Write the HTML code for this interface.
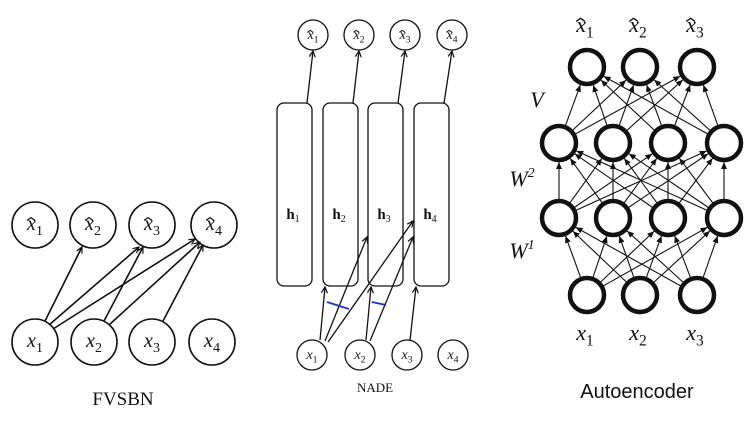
<!DOCTYPE html>
<html><head><meta charset="utf-8"><style>
html,body{margin:0;padding:0;background:#fff;}
svg{display:block}
</style></head><body>
<svg id="s" width="751" height="425" viewBox="0 0 751 425" xmlns="http://www.w3.org/2000/svg">
<defs>
<marker id="a" markerWidth="8" markerHeight="8" refX="7" refY="4" orient="auto" markerUnits="userSpaceOnUse"><path d="M1,1 L7,4 L1,7" fill="none" stroke="#111" stroke-width="1.2"/></marker>
<marker id="b" markerWidth="8" markerHeight="8" refX="7" refY="4" orient="auto" markerUnits="userSpaceOnUse"><path d="M0,1 L7,4 L0,7 Z" fill="#111"/></marker>
</defs>
<g id="fv" fill="none" stroke="#111" stroke-width="1.6"></g>
<g id="nade" fill="none" stroke="#111" stroke-width="1.3"></g>
<g id="ae" fill="none" stroke="#111"></g>
<g id="tx" font-family="Liberation Serif,serif" fill="#111" text-anchor="middle"></g>
<g id="hat" fill="none" stroke="#111"></g>
</svg>
<script>
const NS="http://www.w3.org/2000/svg";
function el(p,t,a,txt){const e=document.createElementNS(NS,t);for(const k in a)e.setAttribute(k,a[k]);if(txt!==undefined)e.innerHTML=txt;document.getElementById(p).appendChild(e);return e;}
function ln(p,x1,y1,x2,y2,m,w){const a={x1,y1,x2,y2};if(m)a['marker-end']='url(#'+m+')';if(w)a['stroke-width']=w;el(p,'line',a);}
function lab(x,y,base,sub,hat,s){
  let t=`<tspan font-style="italic" font-size="${s}">${base}</tspan><tspan font-size="${s*0.7}" dy="${s*0.25}">${sub}</tspan>`;
  el('tx','text',{x:x,y:y},t);
  if(hat){const cx=x-s*0.2, hy=y-s*0.62, w=s*0.2, h=s*0.14;
    el('hat','path',{d:`M${cx-w},${hy+h} L${cx},${hy} L${cx+w},${hy+h}`,'stroke-width':Math.max(1,s/16)});}
}
// FVSBN
const tx=[35,93,152,214], bx=[35,94,152,212];
tx.forEach((x,i)=>{el('fv','circle',{cx:x,cy:225,r:23});lab(x,230,'x',i+1,true,20);});
bx.forEach((x,i)=>{el('fv','circle',{cx:x,cy:342,r:23});lab(x,347,'x',i+1,false,20);});
ln('fv',45,321,82,247,'a');ln('fv',49,325,139,247,'a');ln('fv',53,329,195,239,'a');
ln('fv',104,321,143,247,'a');ln('fv',109,325,200,242,'a');ln('fv',163,321,203,245,'a');
el('tx','text',{x:123,y:405,'font-size':19},'FVSBN');
// NADE
const nx=[313,359,405,452], rx=[277,323,368,414];
nx.forEach((x,i)=>{el('nade','circle',{cx:x,cy:35,r:15});lab(x,39,'x',i+1,true,14);});
[312,360,407,453].forEach((x,i)=>{el('nade','circle',{cx:x,cy:355,r:15});lab(x,359,'x',i+1,false,14);});
rx.forEach((x,i)=>{el('nade','rect',{x:x,y:103,width:35,height:183,rx:7});
  el('tx','text',{x:x+16,y:219,'font-size':15,'font-weight':'bold'},`h<tspan font-size="10" font-weight="normal" dy="3">${i+1}</tspan>`);});
[307,353,398,444].forEach((p,i)=>ln('nade',p,103,nx[i],51,'a'));
ln('nade',320,340,325,287,'a');ln('nade',325,341,367,237,'a');ln('nade',328,342,413,221,'a');
ln('nade',366,340,371,287,'a');ln('nade',370,341,413,237,'a');ln('nade',410,340,416,287,'a');
el('nade','line',{x1:327,y1:302,x2:349,y2:309,stroke:'#2233bb','stroke-width':1.8});
el('nade','line',{x1:372,y1:302,x2:386,y2:305,stroke:'#2233bb','stroke-width':1.8});
el('tx','text',{x:375,y:392,'font-size':13},'NADE');
// Autoencoder
const L0=[587,640,697].map(x=>[x,295]),L1=[559,613,668,724].map(x=>[x,218]),L2=[559,613,668,724].map(x=>[x,143]),L3=[587,640,697].map(x=>[x,67]);
const r=17;
function conn(A,B){A.forEach(a=>B.forEach(b=>{const dx=b[0]-a[0],dy=b[1]-a[1],d=Math.hypot(dx,dy);
 ln('ae',a[0]+dx*r/d,a[1]+dy*r/d,b[0]-dx*(r+2)/d,b[1]-dy*(r+2)/d,'b',1.1);}));}
conn(L0,L1);conn(L1,L2);conn(L2,L3);
[L0,L1,L2,L3].forEach(L=>L.forEach(p=>el('ae','circle',{cx:p[0],cy:p[1],r:r,'stroke-width':4.5,fill:'#fff'})));
[587,640,697].forEach((x,i)=>{lab(x-2,32,'x',i+1,true,22);lab(x-2,340,'x',i+1,false,22);});
el('tx','text',{x:537,y:107,'font-size':22,'font-style':'italic'},'V');
el('tx','text',{x:522,y:186,'font-size':22,'font-style':'italic'},'W<tspan font-size="14" dy="-9">2</tspan>');
el('tx','text',{x:522,y:258,'font-size':22,'font-style':'italic'},'W<tspan font-size="14" dy="-9">1</tspan>');
el('tx','text',{x:637,y:398,'font-size':20,'font-family':'Liberation Sans,sans-serif'},'Autoencoder');
</script>
</body></html>
